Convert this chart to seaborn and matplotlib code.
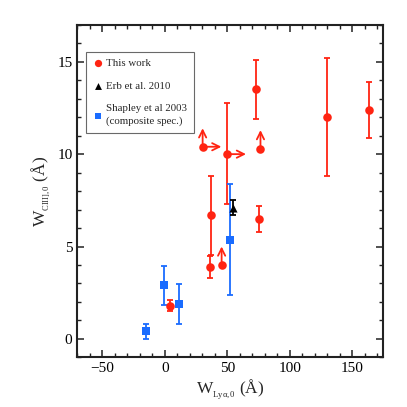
import numpy as np
import matplotlib
matplotlib.use("Agg")
import matplotlib.pyplot as plt
from matplotlib.ticker import MultipleLocator
import seaborn as sns

# this work (red)
this_x = [4.5, 35.9, 36.7, 45.5, 30.3, 50.0, 73.4, 75.7, 76.6, 129.7, 163.5]
this_y = [1.8, 3.9, 6.7, 4.0, 10.4, 10.0, 13.5, 6.5, 10.3, 12.0, 12.4]
this_lo = [1.5, 3.3, 4.55, np.nan, np.nan, 7.3, 11.9, 5.8, np.nan, 8.8, 10.9]
this_hi = [2.1, 4.5, 8.8, np.nan, np.nan, 12.75, 15.1, 7.2, np.nan, 15.2, 13.9]
this_uplim = [False, False, False, True, True, False, False, False, True, False, False]
this_rightlim = [False, False, False, False, True, True, False, False, False, False, False]

# Erb et al. 2010 (black)
erb_x = [54.3]
erb_y = [7.1]
erb_lo = [6.7]
erb_hi = [7.5]

# Shapley et al 2003 (blue)
sh_x = [-14.8, -0.8, 11.2, 52.6]
sh_y = [0.4, 2.9, 1.9, 5.37]
sh_lo = [0.0, 1.84, 0.83, 2.36]
sh_hi = [0.8, 3.92, 2.97, 8.36]

RED = "#ff2412"
BLUE = "#1a6cff"

sns.set_style("ticks")
plt.rcParams["font.family"] = ["Liberation Serif", "DejaVu Serif"]
plt.rcParams["mathtext.fontset"] = "custom"
plt.rcParams["mathtext.rm"] = "Liberation Serif"
plt.rcParams["mathtext.it"] = "Liberation Serif:italic"

fig = plt.figure(figsize=(4.07, 4.07), dpi=100)
ax = fig.add_axes([0.19, 0.122, 0.752, 0.817])


def errs(y, lo, hi):
    y = np.array(y, float)
    lo = np.array(lo, float)
    hi = np.array(hi, float)
    return np.vstack([y - lo, hi - y])


ax.errorbar(this_x, this_y, yerr=errs(this_y, this_lo, this_hi), fmt="none",
            ecolor=RED, elinewidth=1.3, capsize=2, capthick=1.3, zorder=2)
ax.errorbar(sh_x, sh_y, yerr=errs(sh_y, sh_lo, sh_hi), fmt="none",
            ecolor=BLUE, elinewidth=1.3, capsize=2, capthick=1.3, zorder=2)
ax.errorbar(erb_x, erb_y, yerr=errs(erb_y, erb_lo, erb_hi), fmt="none",
            ecolor="black", elinewidth=1.3, capsize=2, capthick=1.3, zorder=2)

# limit arrows
up_len = 1.0
right_len = 15.0
for x, y, up, right in zip(this_x, this_y, this_uplim, this_rightlim):
    if up:
        ax.annotate("", xy=(x, y + up_len), xytext=(x, y),
                    arrowprops=dict(arrowstyle="->", color=RED, lw=1.3,
                                    shrinkA=0, shrinkB=0, mutation_scale=13))
    if right:
        ax.annotate("", xy=(x + right_len, y), xytext=(x, y),
                    arrowprops=dict(arrowstyle="->", color=RED, lw=1.3,
                                    shrinkA=0, shrinkB=0, mutation_scale=13))

sns.scatterplot(x=this_x, y=this_y, ax=ax, color=RED, marker="o", s=38,
                linewidth=0, zorder=3, label="This work")
sns.scatterplot(x=erb_x, y=erb_y, ax=ax, color="black", marker="^", s=34,
                linewidth=0, zorder=3, label="Erb et al. 2010")
sns.scatterplot(x=sh_x, y=sh_y, ax=ax, color=BLUE, marker="s", s=34,
                linewidth=0, zorder=3, label="Shapley et al 2003\n(composite spec.)")

ax.set_xlim(-70, 175)
ax.set_ylim(-1, 17)
ax.xaxis.set_major_locator(MultipleLocator(50))
ax.xaxis.set_minor_locator(MultipleLocator(10))
ax.yaxis.set_major_locator(MultipleLocator(5))
ax.yaxis.set_minor_locator(MultipleLocator(1))
ax.tick_params(which="both", direction="in", top=True, right=True,
               labelsize=11, colors="#222222", labelcolor="black")
ax.tick_params(which="major", length=5, width=1.1)
ax.tick_params(which="minor", length=3, width=1.0)
for sp in ax.spines.values():
    sp.set_linewidth(1.5)
    sp.set_color("#222222")

ax.set_xlabel(r"$\mathrm{W}_{{}_{\mathrm{Ly\alpha,0}}}$ (Å)", fontsize=12.5, labelpad=2)
ax.set_ylabel(r"$\mathrm{W}_{{}_{\mathrm{CIII],0}}}$ (Å)", fontsize=12.5, labelpad=4)

leg = ax.legend(loc="upper left", bbox_to_anchor=(0.027, 0.918), borderaxespad=0,
                fontsize=7.8, frameon=True, fancybox=False, handletextpad=0.2,
                handlelength=1.1, labelspacing=1.2, borderpad=0.6,
                markerscale=0.85)
leg.get_frame().set_edgecolor("#444444")
leg.get_frame().set_linewidth(0.8)
for t in leg.get_texts():
    t.set_linespacing(1.5)

fig.savefig("out.png", dpi=100)
